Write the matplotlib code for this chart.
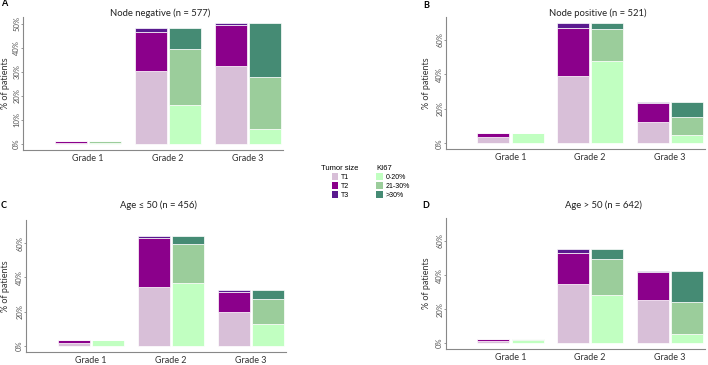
import numpy as np
import matplotlib
matplotlib.use("Agg")
import matplotlib.pyplot as plt
from matplotlib.patches import Patch

plt.rcParams['font.family'] = ['Lato', 'DejaVu Sans']

grades = ["Grade 1", "Grade 2", "Grade 3"]

# tumor size (T1, T2, T3) and KI67 (0-20%, 21-30%, >30%) shares, % of patients
a_t1 = [0.3, 30.3, 32.6]
a_t2 = [0.9, 16.2, 16.9]
a_t3 = [0.0, 1.8, 0.8]
a_k1 = [0.4, 16.4, 6.2]
a_k2 = [0.8, 23.2, 21.6]
a_k3 = [0.0, 8.7, 22.5]

b_t1 = [3.7, 39.4, 12.3]
b_t2 = [2.1, 27.4, 11.4]
b_t3 = [0.0, 3.2, 0.6]
b_k1 = [5.8, 47.7, 5.0]
b_k2 = [0.0, 18.8, 10.3]
b_k3 = [0.0, 3.5, 9.0]

c_t1 = [1.8, 34.4, 19.6]
c_t2 = [1.7, 28.6, 12.1]
c_t3 = [0.0, 1.2, 0.8]
c_k1 = [3.2, 36.6, 12.7]
c_k2 = [0.3, 23.0, 14.5]
c_k3 = [0.0, 4.6, 5.3]

d_t1 = [1.2, 34.9, 25.6]
d_t2 = [1.2, 18.2, 16.3]
d_t3 = [0.0, 2.4, 0.6]
d_k1 = [2.1, 28.4, 5.6]
d_k2 = [0.3, 21.0, 18.3]
d_k3 = [0.0, 6.1, 18.6]

t_labels = ["T1", "T2", "T3"]
k_labels = ["0-20%", "21-30%", ">30%"]
t_colors = ["#d8bfd8", "#8b008b", "#5a1a8f"]
k_colors = ["#c1ffc1", "#9bcd9b", "#458b74"]

W, H = 708, 365
fig = plt.figure(figsize=(W / 100, H / 100), dpi=100)


def make_axes(left, right, top, bottom):
    return fig.add_axes([left / W, 1 - bottom / H, (right - left) / W, (bottom - top) / H])


def stack(ax, xpos, parts, colors):
    bottom = np.zeros(len(xpos))
    for vals, col in zip(parts, colors):
        vals = np.array(vals)
        ax.bar(xpos, vals, 0.4, bottom=bottom, color=col, edgecolor="white", linewidth=0.5)
        bottom += vals


def draw_panel(ax, tparts, kparts, ylim, yticks, ylab_x):
    x = np.arange(1, 4)
    stack(ax, x - 0.215, tparts, t_colors)
    stack(ax, x + 0.215, kparts, k_colors)
    ax.set_xlim(0.19, 3.44)
    ax.set_ylim(*ylim)
    ax.set_xticks(x)
    ax.set_xticklabels(grades, fontsize=6.5, color="#333333")
    ax.set_yticks(yticks)
    ax.set_yticklabels([f"{v}%" for v in yticks], rotation=90, va="center",
                       fontsize=5.5, color="#555555")
    ax.tick_params(axis="x", length=0, pad=3)
    ax.tick_params(axis="y", length=1.5, width=0.6, color="#888888", pad=0.5)
    for s in ["top", "right"]:
        ax.spines[s].set_visible(False)
    for s in ["left", "bottom"]:
        ax.spines[s].set_color("#888888")
        ax.spines[s].set_linewidth(0.8)
    ax.set_ylabel("% of patients", fontsize=6.5, color="#333333")
    ax.yaxis.set_label_coords(ylab_x, 0.5)
    return ax


ax_a = make_axes(23, 283, 17, 150)
draw_panel(ax_a, [a_t1, a_t2, a_t3], [a_k1, a_k2, a_k3], (-2.5, 52.9),
           [0, 10, 20, 30, 40, 50], (10 - 23) / 260)
ax_b = make_axes(446, 705, 17, 149)
draw_panel(ax_b, [b_t1, b_t2, b_t3], [b_k1, b_k2, b_k3], (-3.3, 73.4),
           [0, 20, 40, 60], (431 - 446) / 259)
ax_c = make_axes(26, 286, 220, 352)
draw_panel(ax_c, [c_t1, c_t2, c_t3], [c_k1, c_k2, c_k3], (-3.6, 73.6),
           [0, 20, 40, 60], (10 - 26) / 260)
ax_d = make_axes(446, 705, 218, 349)
draw_panel(ax_d, [d_t1, d_t2, d_t3], [d_k1, d_k2, d_k3], (-3.4, 73.5),
           [0, 20, 40, 60], (431 - 446) / 259)

# titles and panel letters
fig.text(160 / W, 1 - 13 / H, "Node negative (n = 577)", ha="center", va="center", fontsize=6.8, color="#222222")
fig.text(598 / W, 1 - 13 / H, "Node positive (n = 521)", ha="center", va="center", fontsize=6.8, color="#222222")
fig.text(158 / W, 1 - 205 / H, "Age \u2264 50 (n = 456)", ha="center", va="center", fontsize=6.8, color="#222222")
fig.text(603 / W, 1 - 205 / H, "Age > 50 (n = 642)", ha="center", va="center", fontsize=6.8, color="#222222")
for lx, ly, lt in [(4, 4, "A"), (426, 5, "B"), (4, 205, "C"), (426, 205, "D")]:
    fig.text(lx / W, 1 - ly / H, lt, ha="center", va="center", fontsize=6.5, fontweight="bold")

# legends
t_handles = [Patch(facecolor=c, edgecolor="none") for c in t_colors]
k_handles = [Patch(facecolor=c, edgecolor="none") for c in k_colors]
leg_kw = dict(frameon=False, title_fontsize=5.5, labelspacing=0.12,
              handlelength=1.0, handleheight=1.2, handletextpad=0.3, borderpad=0,
              prop={"family": "Liberation Sans", "size": 5})
leg1 = fig.legend(t_handles, t_labels, title="Tumor size", loc="upper left",
                  bbox_to_anchor=(318 / W, 1 - 162 / H), **leg_kw)
leg1.get_title().set_family("Liberation Sans")
leg2 = fig.legend(k_handles, k_labels, title="KI67", loc="upper left",
                  bbox_to_anchor=(373 / W, 1 - 162 / H), alignment="left", **leg_kw)
leg2.get_title().set_family("Liberation Sans")

fig.savefig("out.png", dpi=100)
